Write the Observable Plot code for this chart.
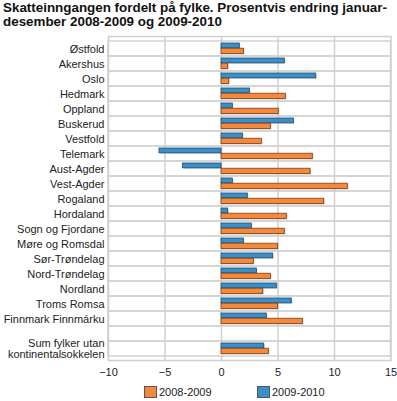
<!DOCTYPE html>
<html>
<head>
<meta charset="utf-8">
<script src="https://cdn.jsdelivr.net/npm/d3@7"></script>
<script src="https://cdn.jsdelivr.net/npm/@observablehq/plot@0.6"></script>
<style>
  body { margin: 0; background: #fff; font-family: "Liberation Sans", Arial, sans-serif; }
  #title { font-weight: bold; font-size: 13.4px; line-height: 14px; padding: 1px 0 0 3px; height: 34px; box-sizing: border-box; color: #111; white-space: nowrap; overflow: hidden; }
  #chart svg { display: block; }
  #legend { position: relative; height: 21px; font-size: 11px; color: #222; }
  .item { position: absolute; top: 6px; display: flex; align-items: center; }
  .sw { width: 11px; height: 10px; border: 1px solid #555; margin-right: 2px; }
</style>
</head>
<body>
<div id="title">Skatteinngangen fordelt på fylke. Prosentvis endring januar-<br>desember 2008-2009 og 2009-2010</div>
<div id="chart"></div>
<div id="legend"></div>
<script>
const counties = ["Østfold","Akershus","Oslo","Hedmark","Oppland","Buskerud","Vestfold","Telemark","Aust-Agder","Vest-Agder","Rogaland","Hordaland","Sogn og Fjordane","Møre og Romsdal","Sør-Trøndelag","Nord-Trøndelag","Nordland","Troms Romsa","Finnmark Finnmárku"," ","Sum fylker utan\nkontinentalsokkelen"];
const values2008_2009 = [1.98,0.59,0.68,5.69,5.07,4.37,3.57,8.08,7.88,11.18,9.09,5.78,5.6,4.99,2.86,4.37,3.69,4.99,7.2,null,4.19];
const values2009_2010 = [1.62,5.6,8.38,2.51,1.0,6.4,1.89,-5.49,-3.42,1.0,2.33,0.59,2.68,1.98,4.57,3.13,4.9,6.22,4.01,null,3.78];
const series = ["2008-2009","2009-2010"];
const colors = ["#f5883a","#3a8fc8"];
const strokes = ["#7a3f14","#1d4f75"];
const xTicks = [-10,-5,0,5,10,15];

const rows = counties.map((c,i)=>({county:c, a:values2008_2009[i], b:values2009_2010[i]}));
const data = rows.filter(d=>d.a!=null);

const chart = Plot.plot({
  width: 397, height: 346,
  marginTop: 2, marginBottom: 20, marginLeft: 108, marginRight: 6.5,
  style: {fontFamily: "Liberation Sans, Arial, sans-serif", fontSize: "11px", color: "#222"},
  x: {domain: [-10,15], ticks: xTicks, tickSize: 0, tickPadding: 8, label: null},
  y: {domain: counties, padding: 0, tickSize: 0, tickPadding: 4, label: null},
  marks: [
    Plot.cell(counties, {y: d=>d, fill: "none", stroke: "#d2d2d2", strokeWidth: 1.5, inset: 0}),
    Plot.ruleX(xTicks.slice(1,-1), {stroke: "#cfcfcf", strokeWidth: 1.5}),
    Plot.frame({stroke: "#cfcfcf", strokeWidth: 1.5}),
    Plot.barX(data, {y: "county", x: "b", insetTop: 2, insetBottom: 8.2, fill: "#999", fillOpacity: 0.55, dx: 1, dy: 1}),
    Plot.barX(data, {y: "county", x: "a", insetTop: 7.2, insetBottom: 2.5, fill: "#999", fillOpacity: 0.55, dx: 1, dy: 1}),
    Plot.barX(data, {y: "county", x: "b", insetTop: 2, insetBottom: 8.2, fill: colors[1], stroke: strokes[1], strokeWidth: 0.8}),
    Plot.barX(data, {y: "county", x: "a", insetTop: 7.2, insetBottom: 2.5, fill: colors[0], stroke: strokes[0], strokeWidth: 0.8})
  ]
});
document.getElementById("chart").appendChild(chart);

const lg = document.getElementById("legend");
const lefts = [144, 257];
series.forEach((s,i)=>{
  const it = document.createElement("div");
  it.className = "item";
  it.style.left = lefts[i] + "px";
  it.innerHTML = `<div class="sw" style="background:${colors[i]}"></div><span>${s}</span>`;
  lg.appendChild(it);
});
</script>
</body>
</html>
